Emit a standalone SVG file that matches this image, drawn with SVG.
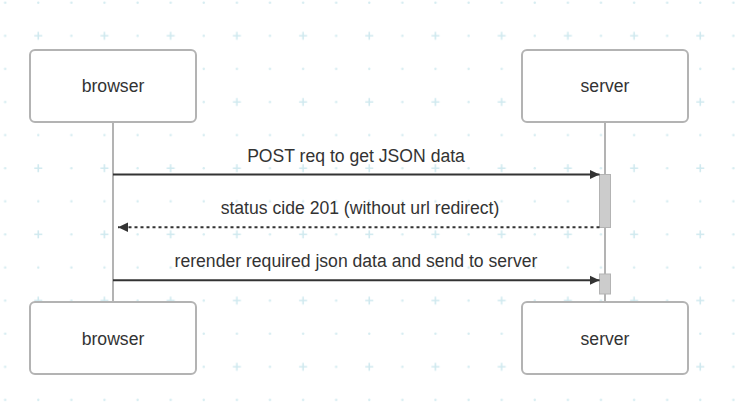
<svg xmlns="http://www.w3.org/2000/svg" width="755" height="417" viewBox="0 0 755 417">
<style>
.actor{fill:#fff;stroke:#b3b3b3;stroke-width:2}
.atext{font-family:"Liberation Sans",Arial,sans-serif;font-size:17.6px;fill:#333;text-anchor:middle}
.life{stroke:#b3b3b3;stroke-width:2}
.act{fill:#cccccc;stroke:#b3b3b3;stroke-width:1}
.msg{stroke:#333;stroke-width:2;fill:none}
.dot{stroke-dasharray:3,3}
.mtext{font-family:"Liberation Sans",Arial,sans-serif;font-size:17.6px;fill:#333;text-anchor:middle}
.g{fill:#d5ecf1}
.gp{stroke:#d0e9ef;stroke-width:1.6}
</style>
<defs>
<pattern id="grid" patternUnits="userSpaceOnUse" x="-11.35" y="-13.85" width="66.2" height="66.2">
<circle class="g" cx="16.55" cy="16.55" r="1.2"/>
<circle class="g" cx="49.65" cy="16.55" r="1.2"/>
<circle class="g" cx="16.55" cy="49.65" r="1.2"/>
<path class="gp" d="M45.65 49.65H53.65M49.65 45.65V53.65"/>
</pattern>
<marker id="ah" markerWidth="10" markerHeight="10" refX="10" refY="5" orient="auto" markerUnits="userSpaceOnUse">
<path d="M0 0.3L10 5L0 9.7z" fill="#333"/>
</marker>
</defs>
<rect width="755" height="417" fill="#fff"/>
<rect width="755" height="417" fill="url(#grid)"/>
<g id="lifelines">
<line class="life" x1="113" y1="122" x2="113" y2="302"/>
<line class="life" x1="605" y1="122" x2="605" y2="302"/>
</g>
<g id="browser-top"><rect class="actor" x="30" y="50" width="166" height="72" rx="5"/><text class="atext" x="113" y="91.5">browser</text></g>
<g id="server-top"><rect class="actor" x="522" y="50" width="166" height="72" rx="5"/><text class="atext" x="605" y="91.5">server</text></g>
<g id="browser-bottom"><rect class="actor" x="30" y="302" width="166" height="72" rx="5"/><text class="atext" x="113" y="345">browser</text></g>
<g id="server-bottom"><rect class="actor" x="522" y="302" width="166" height="72" rx="5"/><text class="atext" x="605" y="345">server</text></g>
<g id="activations">
<rect class="act" x="599.5" y="174.5" width="11" height="53"/>
<rect class="act" x="599.5" y="274" width="11" height="20"/>
</g>
<g id="connectors">
<line class="msg" x1="113" y1="174.5" x2="599.5" y2="174.5" marker-end="url(#ah)"/>
<line class="msg dot" x1="599.5" y1="227.3" x2="118" y2="227.3" marker-end="url(#ah)"/>
<line class="msg" x1="113" y1="280.3" x2="599.5" y2="280.3" marker-end="url(#ah)"/>
<text class="mtext" x="356" y="162">POST req to get JSON data</text>
<text class="mtext" x="360" y="214">status cide 201 (without url redirect)</text>
<text class="mtext" x="356" y="266.5">rerender required json data and send to server</text>
</g>
</svg>
